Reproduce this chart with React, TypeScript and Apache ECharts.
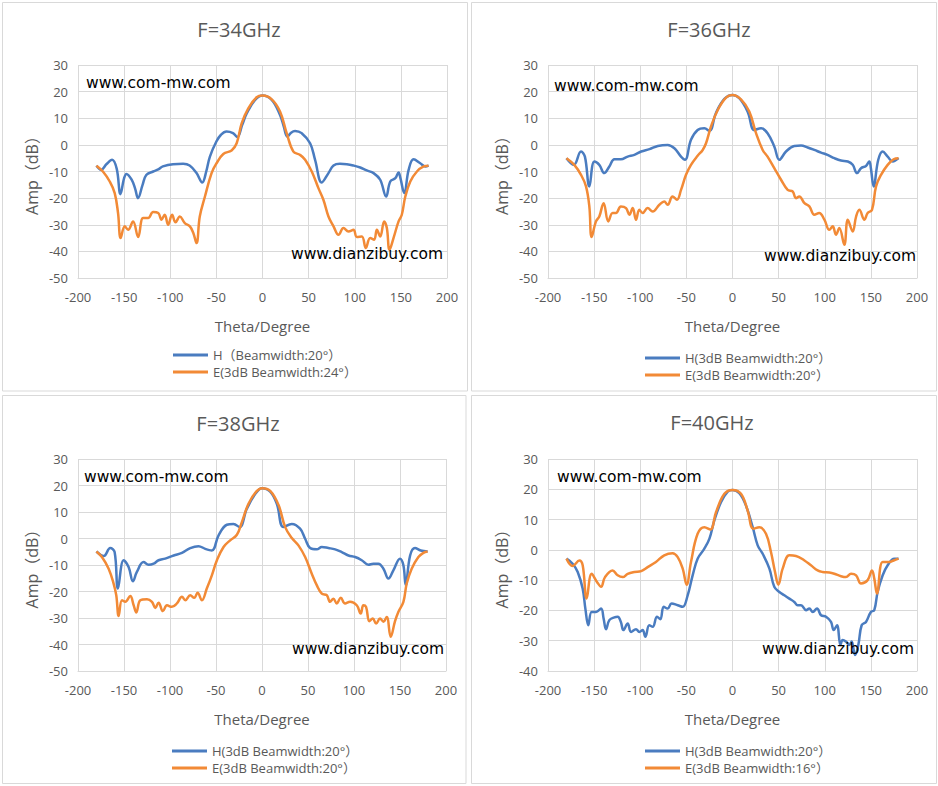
import React, { useEffect, useRef } from 'react';
import * as echarts from 'echarts';

// ---- data: [theta (deg), amplitude (dB)] ----
const h34: number[][] = [
  [-180, -7.8], [-175, -9.4], [-169, -7.2], [-163, -5.6], [-158, -9], [-154, -18.5], [-150, -12.5],
  [-147.5, -10.9], [-142, -13], [-138, -16.5], [-135, -20], [-130, -15], [-126, -11.3], [-118.5, -10],
  [-113, -9.2], [-108, -8.1], [-97, -7.25], [-86, -7.1], [-79, -7.75], [-71.5, -10.6], [-65.3, -14.1],
  [-61, -10], [-57, -4.4], [-50, 1.25], [-45, 3.8], [-39, 5], [-32, 4.4], [-27.3, 2.9], [-22, 7.5],
  [-17, 11.9], [-8, 16.9], [0, 18.5], [10, 16.9], [19, 11.25], [23, 7], [27, 3.1], [31, 4.6], [35.3, 5.25],
  [42.5, 4.4], [51.6, 0.6], [57, -5.6], [64.3, -14.1], [71.5, -10.6], [77, -7.75], [84, -7.1],
  [91.4, -7.25], [98.6, -7.75], [106, -8.5], [113, -9.6], [120.4, -10.6], [127.6, -13.1], [134, -19.4],
  [138.5, -13.75], [144, -12.5], [147.5, -10.4], [149.5, -12.5], [153.7, -18.1], [158.4, -9.4],
  [163.8, -5.4], [171, -6.9], [176.5, -8.1], [180, -7.8]
];
const e34: number[][] = [
  [-180, -7.8], [-173, -10], [-165.6, -13.75], [-160.2, -18.1], [-156.6, -25.6], [-153.7, -35],
  [-149.3, -30.6], [-145.7, -31.9], [-140.3, -28.75], [-134.8, -34.6], [-129.4, -27.5], [-124, -27.5],
  [-118.5, -25.25], [-113, -25.6], [-109.5, -28.1], [-106, -26.25], [-102.3, -30], [-98, -26.25],
  [-94.3, -29.1], [-89.6, -26.9], [-84.2, -29.4], [-78.7, -30.6], [-75, -33.1], [-71.5, -36.9],
  [-68, -26.9], [-62.4, -19.4], [-55.2, -10.6], [-49.8, -6.9], [-42.5, -3.4], [-33.5, -2.1], [-28, 0.6],
  [-22.6, 8.1], [-15.4, 13.75], [-6.3, 17.9], [0, 18.5], [10, 17.1], [19, 12.5], [26.2, 4.4],
  [33.5, -2.5], [40.7, -3.75], [46.2, -5.6], [53.4, -10], [60.6, -16.25], [66, -20.6], [71.5, -26.9],
  [77, -30.6], [82.4, -33.75], [87.8, -31.25], [93.2, -32.5], [98.6, -31.9], [102.3, -34.6],
  [107.7, -34.4], [112, -38.75], [116.7, -35], [121, -35.6], [124, -31.9], [127.6, -34.4],
  [131.9, -28.75], [134.8, -31.25], [137.7, -39.4], [142, -35], [147.5, -28.75], [151, -26.25],
  [154.8, -19.4], [160.2, -13.75], [167.4, -10], [174.7, -8.1], [180, -7.8]
];

const h36: number[][] = [
  [-180, -5], [-172, -7.5], [-164.2, -2.5], [-160, -4.4], [-155.2, -15.6], [-149.8, -6.25],
  [-144.4, -7.5], [-139, -10.6], [-133.5, -8.1], [-128, -5.4], [-121, -5.4], [-113.6, -4.4],
  [-106.4, -3.75], [-99, -2.5], [-90, -1.6], [-81, -0.4], [-70.3, 0], [-63, -1.25], [-55.8, -4.4],
  [-51.5, -5.6], [-45, 1.9], [-37.8, 5.6], [-30.5, 6.25], [-25, 5.25], [-18, 11.9], [-8.8, 17.25],
  [0, 18.75], [7.4, 17.5], [16.4, 12.5], [23.7, 5.6], [30.9, 6.25], [38, 4.4], [45.3, -0.6],
  [50.8, -5.6], [58, -2.5], [67, -0.4], [74.3, -0.25], [81.5, -1], [88.7, -1.9], [96, -2.9],
  [103, -3.75], [110.4, -5], [117.6, -5.9], [125, -6.25], [130.3, -7.5], [135, -10.6], [139.3, -8.75],
  [144.7, -7.9], [148.3, -6.25], [150, -8.75], [153, -15.6], [158, -5.6], [162.8, -2.5],
  [168.2, -4.4], [173.6, -6.25], [180, -5]
];
const e36: number[][] = [
  [-180, -5], [-171.5, -7.5], [-164.2, -11.25], [-158.8, -15.6], [-155.2, -23.1], [-152.7, -34.6],
  [-148, -28.75], [-144.4, -26.9], [-139.7, -21.9], [-134.6, -28.75], [-130, -25.6], [-126.3, -25.6],
  [-121, -23.1], [-115.4, -23.75], [-111.8, -26.25], [-108.2, -23.75], [-104.6, -28.1], [-101, -24.4],
  [-97.4, -25.6], [-92, -23.75], [-86.5, -25], [-79.3, -22.5], [-74, -21.25], [-70.3, -22.5],
  [-65, -19.4], [-60.2, -20.6], [-55.8, -16.9], [-50.4, -11.25], [-45, -7.5], [-37.8, -4.1],
  [-32.3, -1.9], [-28.7, 0.6], [-23.3, 6.9], [-16, 13.1], [-7, 17.75], [0, 18.75], [9.2, 17.1],
  [18.2, 12.5], [25.5, 4.4], [32.7, -1.9], [38, -4.4], [45.3, -8.75], [52.6, -13.1], [59.8, -16.9],
  [65.2, -17.5], [68.8, -20], [72.4, -19.4], [78, -21.9], [83.3, -23.1], [88.7, -26.25], [94, -25.6],
  [99.6, -28.1], [105, -31.9], [108.6, -30.6], [112.2, -33.75], [115.8, -31.25], [121.2, -37.5],
  [125, -28.1], [130.3, -32.5], [134, -26.9], [137.5, -24.4], [143, -28.1], [146.5, -25.6],
  [151.2, -24.4], [155.6, -15.6], [161, -11.25], [168.2, -7.5], [174.7, -5.4], [180, -5]
];

const h38: number[][] = [
  [-180, -4.9], [-172, -6.6], [-165, -3.6], [-160.2, -5.1], [-156.6, -18.9], [-150.4, -8.2],
  [-145, -10.75], [-140.3, -16.1], [-136, -12.6], [-128.7, -8.9], [-123.3, -9.9], [-117.8, -9.5],
  [-112.4, -8.2], [-105.2, -7.6], [-96, -6.4], [-87, -5.4], [-78, -3.6], [-69, -2.9], [-61.7, -3.9],
  [-54.5, -4.5], [-47.2, 1.2], [-38.2, 5.2], [-31, 5.5], [-24.4, 4.3], [-16.5, 11.2], [-7.4, 16.8],
  [0, 19], [8.9, 17.7], [16.1, 13.1], [23.3, 4.3], [32.4, 5.5], [41.4, 3.7], [46.9, -0.1],
  [52.3, -3.6], [59.5, -4.1], [65, -3.2], [72.2, -3.6], [79.5, -4.1], [86.7, -5.1], [94, -6.4],
  [101.2, -7], [108.4, -8.2], [115.7, -9.9], [121, -9.5], [126.5, -9.5], [132, -11.4], [137.4, -15.1],
  [142.8, -12], [150, -7.6], [153.7, -10.1], [156.2, -17.6], [161, -6.4], [166.3, -3.6],
  [172.5, -4.5], [180, -4.9]
];
const e38: number[][] = [
  [-180, -4.9], [-174, -7], [-166.7, -11.4], [-161.3, -17], [-158.4, -21.4], [-155.8, -29.2],
  [-152.2, -23.3], [-148.6, -23.9], [-143.2, -21.7], [-139.5, -25.2], [-136.6, -27.9], [-132.3, -23.3],
  [-125, -22.9], [-119.6, -23.9], [-116, -26.2], [-112.4, -24.2], [-107.7, -27.4], [-103.3, -25.2],
  [-98, -25.8], [-92.5, -24.5], [-87, -22], [-83.4, -23.3], [-78, -21.4], [-73.7, -22.4], [-70, -20.5],
  [-65.3, -23.3], [-60, -18.9], [-54.5, -13.9], [-49, -8.2], [-41.8, -3.2], [-34.6, -0.7],
  [-27.3, 1.4], [-21.9, 6.2], [-14.7, 13.1], [-6.3, 17.7], [0, 19], [8.9, 18], [17.9, 12.7],
  [25.2, 4.3], [32.4, 0.2], [39.6, -2.6], [46.9, -7], [54.1, -13.3], [59.5, -17.6], [65, -20.8],
  [70.4, -21.4], [74, -23.9], [77.6, -22.7], [81.2, -24.5], [85.6, -22.4], [90.3, -24.5],
  [95.7, -23.9], [103, -25.2], [107.3, -28.3], [110.2, -25.2], [113.1, -25.8], [116.7, -31.2],
  [120.4, -30.2], [124, -32.1], [128.3, -30.2], [132, -31.4], [135.6, -29.6], [139.9, -37.1],
  [144.6, -31.2], [148.2, -27.7], [153.7, -23.9], [157.3, -17], [162.7, -11.4], [170, -7],
  [175.4, -5.4], [180, -4.9]
];

const h40: number[][] = [
  [-180, -2.9], [-173.3, -4.6], [-167.8, -7.3], [-162.4, -12.8], [-159.5, -19.4], [-156.3, -24.9],
  [-152.7, -20.5], [-148, -20.5], [-142.5, -19.4], [-139.7, -22.7], [-137.1, -26.2], [-133.5, -23.2],
  [-128, -22.3], [-124.5, -22.1], [-121, -23.8], [-118.3, -26.5], [-113.6, -24.3], [-110, -27.1],
  [-104.6, -26.2], [-101, -27.1], [-97.4, -26.5], [-94.5, -28.7], [-90.2, -24.9], [-86.5, -25.4],
  [-81.8, -22.1], [-78.2, -22.9], [-74.6, -18.8], [-70.3, -19.4], [-66, -17.7], [-59.4, -18.3],
  [-54, -18.8], [-48.6, -15], [-43.2, -8.4], [-37.8, -2.9], [-30.5, 0.4], [-25, 3.7], [-19.7, 9.7],
  [-12.5, 15.7], [-5.2, 19.2], [0, 19.8], [7.4, 18.7], [14.6, 14.6], [21.9, 7.5], [27.3, 1.5],
  [32.7, -1.3], [40, -6.2], [45.3, -12.2], [50.8, -13.9], [56.2, -15], [61.6, -16.1], [67, -17.2],
  [70.6, -18.3], [74.3, -18.3], [79.7, -19.9], [83.3, -19.4], [87, -20.5], [91.6, -19.4],
  [96, -21.6], [101.4, -22.1], [106.8, -23.8], [109.7, -26.5], [113.3, -24.9], [117, -31.4],
  [119.4, -29.8], [123, -30.3], [126.7, -31.4], [129.2, -30.3], [132.8, -34.7], [136.4, -31.4],
  [140, -24.9], [144.7, -23.8], [150, -20.5], [153.7, -19.9], [157.3, -13.9], [162.8, -8.4],
  [168.2, -5.1], [175.4, -2.9], [180, -2.9]
];
const e40: number[][] = [
  [-180, -2.9], [-173.3, -5.3], [-166, -3.5], [-162.4, -5.1], [-158.1, -16.1], [-152.7, -7.9],
  [-146.9, -10.6], [-142.5, -12.2], [-138.2, -9], [-130, -6.8], [-124.5, -8.4], [-119, -9],
  [-113.6, -7.9], [-106.4, -7.3], [-99, -7], [-92, -5.7], [-83, -4], [-74, -1.8], [-65, -1.1],
  [-59.4, -2.4], [-54, -6.2], [-49.7, -11.5], [-45, -4], [-37.8, 5.3], [-30.5, 7.5], [-24, 6.7],
  [-17.9, 12.4], [-8.8, 18.5], [0, 19.8], [9.2, 18.5], [16.4, 13], [22.6, 7], [29.1, 7.5],
  [36.3, 5.3], [41.7, -0.7], [46.1, -7.3], [49.7, -11.5], [54.4, -6.2], [61.6, -1.8], [68.8, -2],
  [78, -3.5], [85, -5.1], [92.3, -6.8], [97.7, -7.3], [105, -7.5], [110.4, -7.9], [117.6, -8.7],
  [123, -9], [128.5, -7.9], [134, -8.4], [139.3, -11.1], [146.5, -10], [151.2, -6.8], [153.7, -9.5],
  [156.6, -14.4], [162.8, -4], [170, -4], [174.7, -3.5], [180, -2.9]
];

const panelTitles = ['F=34GHz', 'F=36GHz', 'F=38GHz', 'F=40GHz'];
const hNames = ['H（Beamwidth:20°）', 'H(3dB Beamwidth:20°）', 'H(3dB Beamwidth:20°）', 'H(3dB Beamwidth:20°）'];
const eNames = ['E(3dB Beamwidth:24°）', 'E(3dB Beamwidth:20°）', 'E(3dB Beamwidth:20°）', 'E(3dB Beamwidth:16°）'];
const hSeries = [h34, h36, h38, h40];
const eSeries = [e34, e36, e38, e40];
const yMins = [-50, -50, -50, -40];
const yMaxs = [30, 30, 30, 30];

// ---- layout ----
const W = 938;
const H = 786;
const BLUE = '#4a7cc0';
const ORANGE = '#f28a36';
const GRAY_TEXT = '#595959';
const GRID_LINE = '#d9d9d9';
const FONT = "'Open Sans', 'Noto Sans CJK SC', sans-serif";
const WM_FONT = "'DejaVu Sans', Verdana, sans-serif";

const grids = [
  { left: 78, top: 65, width: 369, height: 213 },
  { left: 548, top: 65, width: 369, height: 213 },
  { left: 78, top: 459, width: 368, height: 212 },
  { left: 548, top: 459, width: 369, height: 212 }
];
const frames = [
  { x: 2.5, y: 2.5, width: 465, height: 388.5 },
  { x: 471.5, y: 2.5, width: 465, height: 388.5 },
  { x: 2.5, y: 395.5, width: 463.5, height: 388 },
  { x: 471.5, y: 395.5, width: 465, height: 388 }
];
const titlePos = [
  { x: 234, y: 14 },
  { x: 704, y: 14 },
  { x: 233, y: 408 },
  { x: 707, y: 407 }
];
const legendPos = [
  { x: 173, y: 348 },
  { x: 645, y: 351 },
  { x: 172, y: 744 },
  { x: 645, y: 744 }
];
const wmTop = [
  { x: 86, y: 83 },
  { x: 554, y: 86 },
  { x: 84, y: 477 },
  { x: 557, y: 477 }
];
const wmBottom = [
  { x: 291, y: 254 },
  { x: 764, y: 256 },
  { x: 292, y: 649 },
  { x: 762, y: 649 }
];

const App: React.FC = () => {
  const chartRef = useRef<HTMLDivElement>(null);

  useEffect(() => {
    if (!chartRef.current) return;
    const chart = echarts.init(chartRef.current, undefined, { renderer: 'svg' });

    const idx = [0, 1, 2, 3];

    const option: echarts.EChartsOption = {
      animation: false,
      backgroundColor: '#ffffff',
      textStyle: { fontFamily: FONT },
      title: idx.map((i) => ({
        text: panelTitles[i],
        left: titlePos[i].x,
        top: titlePos[i].y,
        textAlign: 'center',
        textStyle: { fontSize: 20, fontWeight: 'normal', color: GRAY_TEXT, fontFamily: FONT }
      })),
      legend: idx.map((i) => ({
        data: [hNames[i], eNames[i]],
        orient: 'vertical',
        left: legendPos[i].x,
        top: legendPos[i].y,
        icon: 'rect',
        itemWidth: 35,
        itemHeight: 3,
        itemGap: 3,
        padding: 0,
        selectedMode: false,
        textStyle: { fontSize: 13, color: GRAY_TEXT, fontFamily: FONT, lineHeight: 14 }
      })),
      grid: grids.map((g) => ({ ...g, containLabel: false })),
      xAxis: idx.map((i) => ({
        type: 'value',
        gridIndex: i,
        min: -200,
        max: 200,
        interval: 50,
        name: 'Theta/Degree',
        nameLocation: 'middle',
        nameGap: 40,
        nameTextStyle: { fontSize: 15, color: GRAY_TEXT, fontFamily: FONT },
        axisLine: { show: true, onZero: false, lineStyle: { color: GRID_LINE, width: 1 } },
        axisTick: { show: false },
        axisLabel: { color: GRAY_TEXT, fontSize: 13, margin: 12, fontFamily: FONT },
        splitLine: { show: true, lineStyle: { color: GRID_LINE, width: 1 } }
      })),
      yAxis: idx.map((i) => ({
        type: 'value',
        gridIndex: i,
        min: yMins[i],
        max: yMaxs[i],
        interval: 10,
        name: 'Amp（dB）',
        nameLocation: 'middle',
        nameGap: 38,
        nameTextStyle: { fontSize: 16, color: GRAY_TEXT, fontFamily: FONT },
        axisLine: { show: false },
        axisTick: { show: false },
        axisLabel: { color: GRAY_TEXT, fontSize: 13, margin: 10, fontFamily: FONT },
        splitLine: { show: true, lineStyle: { color: GRID_LINE, width: 1 } }
      })),
      series: idx.flatMap((i) => [
        {
          name: hNames[i],
          type: 'line' as const,
          xAxisIndex: i,
          yAxisIndex: i,
          data: hSeries[i],
          smooth: 0.4,
          showSymbol: false,
          color: BLUE,
          lineStyle: { color: BLUE, width: 2.5 },
          z: 3
        },
        {
          name: eNames[i],
          type: 'line' as const,
          xAxisIndex: i,
          yAxisIndex: i,
          data: eSeries[i],
          smooth: 0.4,
          showSymbol: false,
          color: ORANGE,
          lineStyle: { color: ORANGE, width: 2.5 },
          z: 4
        }
      ]),
      graphic: [
        ...frames.map((f) => ({
          type: 'rect' as const,
          shape: f,
          style: { fill: 'none', stroke: GRID_LINE, lineWidth: 1 },
          silent: true,
          z: -1
        })),
        ...idx.map((i) => ({
          type: 'text' as const,
          x: wmTop[i].x,
          y: wmTop[i].y,
          style: {
            text: 'www.com-mw.com',
            fill: '#000000',
            fontSize: 15.5,
            fontFamily: WM_FONT,
            verticalAlign: 'middle'
          },
          z: 10
        })),
        ...idx.map((i) => ({
          type: 'text' as const,
          x: wmBottom[i].x,
          y: wmBottom[i].y,
          style: {
            text: 'www.dianzibuy.com',
            fill: '#000000',
            fontSize: 15.5,
            fontFamily: WM_FONT,
            verticalAlign: 'middle'
          },
          z: 10
        }))
      ]
    };

    chart.setOption(option);

    return () => {
      chart.dispose();
    };
  }, []);

  return (
    <div
      ref={chartRef}
      style={{ position: 'fixed', left: 0, top: 0, width: W, height: H, background: '#fff' }}
    />
  );
};

export default App;
